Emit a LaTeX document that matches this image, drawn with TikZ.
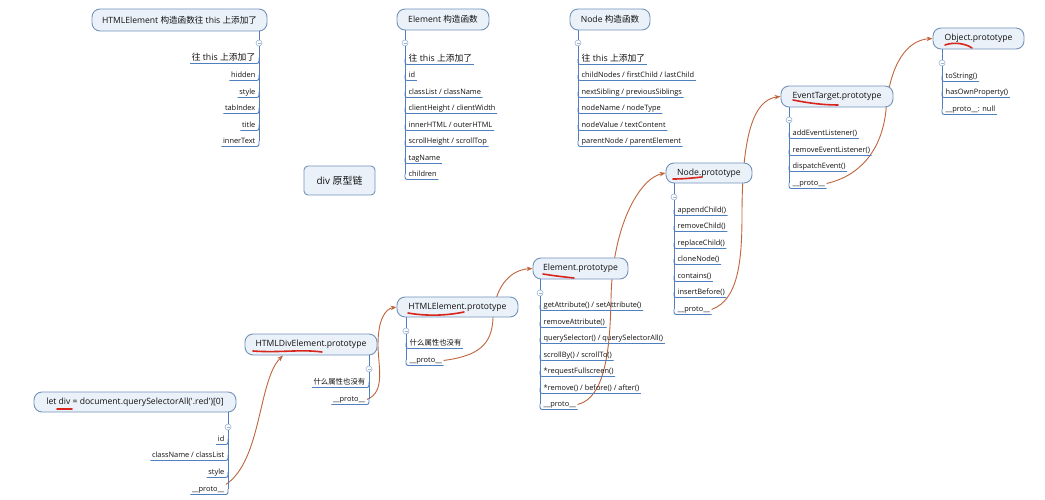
\documentclass[tikz,border=0pt]{standalone}
\usepackage{fontspec}
\setmainfont{Open Sans}
\newfontfamily\cjk{Noto Sans CJK SC}
\usetikzlibrary{arrows.meta,backgrounds}
\definecolor{boxline}{HTML}{7393BB}
\definecolor{boxfill}{HTML}{EAF1F9}
\definecolor{ulc}{HTML}{4F7FBF}
\definecolor{arrc}{HTML}{C0643C}
\definecolor{redm}{HTML}{D9261C}
\definecolor{txt}{HTML}{111111}
\definecolor{colc}{HTML}{9DB4D2}
\newcommand\zh[1]{{\cjk #1}}
\tikzset{
 box/.style={draw=boxline, fill=boxfill, line width=0.9pt, rounded corners=8pt, minimum height=21pt, inner sep=0pt, text=txt, font=\fontsize{8.6}{10}\selectfont},
 item/.style={inner xsep=1.5pt, inner ysep=1.2pt, text height=5.5pt, text depth=1.8pt, text=txt, font=\fontsize{7.4}{9}\selectfont},
 headitem/.style={inner xsep=1.5pt, inner ysep=1.2pt, text height=6.6pt, text depth=2pt, text=txt, font=\fontsize{8.8}{10}\selectfont},
 uline/.style={draw=ulc, line width=0.9pt, rounded corners=2.2pt},
 collapse/.style={circle, draw=colc, fill=white, line width=0.6pt, minimum size=6pt, inner sep=0pt,
   path picture={\draw[colc,line width=0.6pt] ([xshift=-1.5pt]path picture bounding box.center) -- ([xshift=1.5pt]path picture bounding box.center);}},
 protoarrow/.style={draw=arrc, line width=0.9pt, -{Stealth[length=6pt,width=4.5pt]}},
 redmark/.style={draw=redm, line width=1.6pt, line cap=round},
}
\newcommand\LItem[5][item]{%
  \node[#1,anchor=south west] (#2) at (#3+2,#4+5.5) {#5};
  \draw[uline] (#3,#4) |- (#2.south east);}
\newcommand\RItem[5][item]{%
  \node[#1,anchor=south east] (#2) at (#3-2,#4+5.5) {#5};
  \draw[uline] (#3,#4) |- (#2.south west);}
\newcommand\PR{\_\_proto\_\_}
\begin{document}
\begin{tikzpicture}[x=1pt,y=-1pt]
\path[use as bounding box] (0,0) rectangle (1045,500);

% ---------- HTMLElement constructor
\node[box, minimum width=175pt, minimum height=22pt] (b1) at (179.5,20) {HTMLElement \zh{构造函数往} this \zh{上添加了}};
\node[collapse] (c1) at (259,43) {};
\RItem[headitem]{h1}{259}{58}{\zh{往} this \zh{上添加了}}
\RItem{h1a}{259}{75}{hidden}
\RItem{h1b}{259}{92}{style}
\RItem{h1c}{259}{108}{tabIndex}
\RItem{h1d}{259}{125}{title}
\RItem{h1e}{259}{141}{innerText}
\draw[uline] (b1.south -| c1) -- (c1.north);
\draw[uline] (c1.south) -- (c1 |- h1e.center);

% ---------- Element constructor
\node[box, minimum width=92pt] (b2) at (443,19.5) {Element \zh{构造函数}};
\node[collapse] (c2) at (405,43) {};
\LItem[headitem]{h2}{405}{59}{\zh{往} this \zh{上添加了}}
\LItem{h2a}{405}{75}{id}
\LItem{h2b}{405}{92}{classList / className}
\LItem{h2c}{405}{108}{clientHeight / clientWidth}
\LItem{h2d}{405}{125}{innerHTML / outerHTML}
\LItem{h2e}{405}{141}{scrollHeight / scrollTop}
\LItem{h2f}{405}{158}{tagName}
\LItem{h2g}{405}{174}{children}
\draw[uline] (b2.south -| c2) -- (c2.north);
\draw[uline] (c2.south) -- (c2 |- h2g.center);

% ---------- Node constructor
\node[box, minimum width=80pt] (b3) at (610,19.5) {Node \zh{构造函数}};
\node[collapse] (c3) at (578,43) {};
\LItem[headitem]{h3}{578}{59}{\zh{往} this \zh{上添加了}}
\LItem{h3a}{578}{75}{childNodes / firstChild / lastChild}
\LItem{h3b}{578}{92}{nextSibling / previousSiblings}
\LItem{h3c}{578}{108}{nodeName / nodeType}
\LItem{h3d}{578}{125}{nodeValue / textContent}
\LItem{h3e}{578}{141}{parentNode / parentElement}
\draw[uline] (b3.south -| c3) -- (c3.north);
\draw[uline] (c3.south) -- (c3 |- h3e.center);

% ---------- title
\node[box, rounded corners=4pt, minimum width=71pt, minimum height=29pt, font=\fontsize{9.9}{11}\selectfont] (bdiv) at (339.5,180.5) {div \zh{原型链}};

% ---------- let div
\node[box, minimum width=202pt, minimum height=20pt] (blet) at (135,402) {let div = document.querySelectorAll(\textquotesingle.red\textquotesingle)[0]};
\node[collapse] (c4) at (228,427) {};
\RItem{l1}{228}{439}{id}
\RItem{l2}{228}{455}{className / classList}
\RItem{l3}{228}{472}{style}
\RItem{p1}{228}{489}{\PR}
\draw[uline] (blet.south -| c4) -- (c4.north);
\draw[uline] (c4.south) -- (c4 |- p1.center);

% ---------- HTMLDivElement.prototype
\node[box, minimum width=132pt] (bhd) at (311,344.5) {HTMLDivElement.prototype};
\node[collapse] (c5) at (369,369) {};
\RItem{d1}{369}{382}{\zh{什么属性也没有}}
\RItem{p2}{369}{399}{\PR}
\draw[uline] (bhd.south -| c5) -- (c5.north);
\draw[uline] (c5.south) -- (c5 |- p2.center);

% ---------- HTMLElement.prototype
\node[box, minimum width=121pt, minimum height=20pt] (bhe) at (457.5,307) {HTMLElement.prototype};
\node[collapse] (c6) at (406,331) {};
\LItem{e1}{406}{343}{\zh{什么属性也没有}}
\LItem{p3}{406}{360}{\PR}
\draw[uline] (bhe.south -| c6) -- (c6.north);
\draw[uline] (c6.south) -- (c6 |- p3.center);

% ---------- Element.prototype
\node[box, minimum width=95pt] (bel) at (580.5,268.5) {Element.prototype};
\node[collapse] (c7) at (540,293) {};
\LItem{f1}{540}{305}{getAttribute() / setAttribute()}
\LItem{f2}{540}{322}{removeAttribute()}
\LItem{f3}{540}{338}{querySelector() / querySelectorAll()}
\LItem{f4}{540}{355}{scrollBy() / scrollTo()}
\LItem{f5}{540}{371}{*requestFullscreen()}
\LItem{f6}{540}{388}{*remove() / before() / after()}
\LItem{p4}{540}{404}{\PR}
\draw[uline] (bel.south -| c7) -- (c7.north);
\draw[uline] (c7.south) -- (c7 |- p4.center);

% ---------- Node.prototype
\node[box, minimum width=86pt, minimum height=20pt] (bno) at (709,173) {Node.prototype};
\node[collapse] (c8) at (674,197) {};
\LItem{n1}{674}{210}{appendChild()}
\LItem{n2}{674}{226}{removeChild()}
\LItem{n3}{674}{243}{replaceChild()}
\LItem{n4}{674}{259}{cloneNode()}
\LItem{n5}{674}{276}{contains()}
\LItem{n6}{674}{292}{insertBefore()}
\LItem{p5}{674}{309}{\PR}
\draw[uline] (bno.south -| c8) -- (c8.north);
\draw[uline] (c8.south) -- (c8 |- p5.center);

% ---------- EventTarget.prototype
\node[box, minimum width=112pt] (bet) at (837,96.5) {EventTarget.prototype};
\node[collapse] (c9) at (789,120) {};
\LItem{t1}{789}{133}{addEventListener()}
\LItem{t2}{789}{150}{removeEventListener()}
\LItem{t3}{789}{166}{dispatchEvent()}
\LItem{p6}{789}{183}{\PR}
\draw[uline] (bet.south -| c9) -- (c9.north);
\draw[uline] (c9.south) -- (c9 |- p6.center);

% ---------- Object.prototype
\node[box, minimum width=91pt] (bob) at (978.5,38.5) {Object.prototype};
\node[collapse] (c10) at (942,63) {};
\LItem{o1}{942}{76}{toString()}
\LItem{o2}{942}{92}{hasOwnProperty()}
\LItem{o3}{942}{109}{\PR: null}
\draw[uline] (bob.south -| c10) -- (c10.north);
\draw[uline] (c10.south) -- (c10 |- o3.center);

% ---------- white page and prototype chain arrows (behind the boxes)
\begin{pgfonlayer}{background}
\fill[white] (0,0) rectangle (1045,500);
\draw[protoarrow] (p1.north east) .. controls (262,460) and (258,380) .. ([xshift=-28pt]bhd.south);
\draw[protoarrow] (p2.east) .. controls (386,392) and (378,365) .. (378,345) .. controls (378,320) and (385,309) .. (bhe.west);
\draw[protoarrow] (p3.east) .. controls (478,356) and (492,345) .. (493,318) .. controls (494,290) and (508,270) .. (bel.west);
\draw[protoarrow] (p4.east) .. controls (605,398) and (610,350) .. (611,300) .. controls (612,225) and (640,178) .. (bno.west);
\draw[protoarrow] (p5.east) .. controls (738,300) and (742,262) .. (742,215) .. controls (742,140) and (752,100) .. (bet.west);
\draw[protoarrow] (p6.east) .. controls (860,176) and (882,150) .. (886,110) .. controls (890,62) and (908,40) .. (bob.west);
\end{pgfonlayer}

% ---------- red hand marks
\draw[redmark] (57,409) -- (72,409);
\draw[redmark] (253,351) .. controls (280,353) and (300,349) .. (322,352);
\draw[redmark] (408,313) .. controls (425,316) and (445,316) .. (464,312);
\draw[redmark] (543,274) .. controls (555,276) and (565,277) .. (574,278);
\draw[redmark] (673,179) .. controls (683,179) and (693,178) .. (702,177);
\draw[redmark] (793,100) .. controls (808,103) and (823,105) .. (838,105);
\draw[redmark] (945,45) .. controls (953,42) and (965,43) .. (972,48);
\end{tikzpicture}
\end{document}
